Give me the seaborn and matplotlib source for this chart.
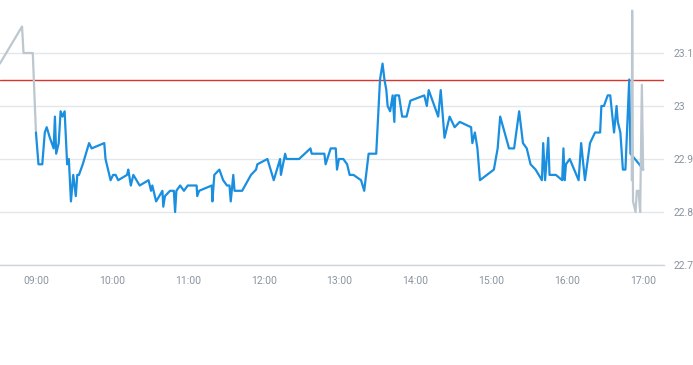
import numpy as np
import pandas as pd
import seaborn as sns
import matplotlib.pyplot as plt
import matplotlib.dates as mdates
from matplotlib.ticker import FuncFormatter

# ----- data -----
DAY = "2024-01-02 "

pre_times = ["08:31:30", "08:49:00", "08:50:10", "08:57:30", "09:00:00"]
pre_prices = [23.08, 23.15, 23.10, 23.10, 22.95]

main_times = [
    "09:00:00", "09:02:00", "09:05:00", "09:07:00", "09:08:30", "09:11:00", "09:14:00",
    "09:15:00", "09:16:00", "09:18:00", "09:19:30", "09:21:00", "09:22:40", "09:24:40",
    "09:26:00", "09:27:40", "09:29:30", "09:31:30", "09:32:40", "09:34:00", "09:37:00",
    "09:42:00", "09:44:00", "09:54:00", "09:55:00", "09:57:00", "09:59:00", "10:01:00",
    "10:03:00", "10:05:00", "10:12:00", "10:13:00", "10:15:00", "10:17:00", "10:22:00",
    "10:29:00", "10:31:00", "10:32:00", "10:35:00", "10:40:00", "10:40:40", "10:42:00",
    "10:46:00", "10:49:00", "10:50:00", "10:51:00", "10:54:00", "10:57:00", "11:00:00",
    "11:07:00", "11:07:30", "11:09:00", "11:19:00", "11:19:30", "11:21:00", "11:25:00",
    "11:28:00", "11:31:00", "11:33:00", "11:34:00", "11:36:00", "11:37:00", "11:43:00",
    "11:50:00", "11:54:00", "11:55:00", "12:03:00", "12:08:00", "12:13:00", "12:13:40",
    "12:17:00", "12:18:00", "12:28:00", "12:37:00", "12:38:00", "12:48:00", "12:49:00",
    "12:53:00", "12:57:00", "12:58:00", "12:59:30", "13:03:00", "13:06:00", "13:08:00",
    "13:11:00", "13:17:00", "13:19:30", "13:23:00", "13:29:00", "13:32:00", "13:34:00",
    "13:35:30", "13:37:00", "13:38:00", "13:40:00", "13:42:00", "13:43:20", "13:44:00",
    "13:47:00", "13:49:30", "13:53:00", "13:56:00", "14:07:00", "14:09:00", "14:10:30",
    "14:18:00", "14:20:00", "14:23:00", "14:27:00", "14:31:00", "14:35:00", "14:44:00",
    "14:45:00", "14:47:00", "14:49:00", "14:51:00", "15:02:00", "15:05:00", "15:07:00",
    "15:14:00", "15:18:00", "15:22:00", "15:25:00", "15:28:00", "15:31:00", "15:35:00",
    "15:40:00", "15:41:00", "15:42:30", "15:45:00", "15:46:00", "15:51:00", "15:56:00",
    "15:57:00", "15:58:00", "15:59:00", "16:02:00", "16:09:00", "16:11:00", "16:14:00",
    "16:18:00", "16:22:00", "16:26:00", "16:27:00", "16:29:00", "16:32:00", "16:34:00",
    "16:37:00", "16:39:00", "16:40:00", "16:42:00", "16:44:00", "16:46:00", "16:49:00",
    "16:50:00", "16:57:00", "17:00:00",
]
main_prices = [
    22.95, 22.89, 22.89, 22.95, 22.96, 22.94, 22.92,
    22.98, 22.91, 22.93, 22.99, 22.98, 22.99, 22.89,
    22.90, 22.82, 22.87, 22.83, 22.87, 22.87, 22.89,
    22.93, 22.92, 22.93, 22.90, 22.88, 22.86, 22.87,
    22.87, 22.86, 22.87, 22.88, 22.85, 22.87, 22.85,
    22.86, 22.84, 22.85, 22.82, 22.84, 22.81, 22.83,
    22.84, 22.84, 22.80, 22.84, 22.85, 22.84, 22.85,
    22.85, 22.83, 22.84, 22.85, 22.82, 22.87, 22.88,
    22.86, 22.85, 22.85, 22.82, 22.87, 22.84, 22.84,
    22.87, 22.88, 22.89, 22.90, 22.86, 22.90, 22.87,
    22.91, 22.90, 22.90, 22.92, 22.91, 22.91, 22.89,
    22.92, 22.92, 22.88, 22.90, 22.90, 22.89, 22.87,
    22.87, 22.86, 22.84, 22.91, 22.91, 23.05, 23.08,
    23.05, 23.03, 23.00, 22.99, 23.02, 22.97, 23.02,
    23.02, 22.98, 22.98, 23.01, 23.02, 23.00, 23.03,
    22.98, 23.03, 22.94, 22.98, 22.96, 22.97, 22.96,
    22.93, 22.95, 22.92, 22.86, 22.88, 22.92, 22.98,
    22.92, 22.92, 22.99, 22.93, 22.92, 22.89, 22.88,
    22.86, 22.93, 22.86, 22.94, 22.87, 22.87, 22.86,
    22.92, 22.86, 22.89, 22.90, 22.86, 22.93, 22.86,
    22.93, 22.95, 22.95, 23.00, 23.00, 23.02, 23.02,
    22.95, 23.00, 22.97, 22.95, 22.88, 22.88, 23.05,
    22.91, 22.89, 22.88,
]

post_times = ["16:51:00", "16:51:20", "16:52:00", "16:54:00", "16:55:00", "16:56:20",
              "16:57:40", "16:59:00", "17:00:00"]
post_prices = [22.86, 23.18, 22.82, 22.80, 22.84, 22.84, 22.80, 23.04, 22.88]

ref_price = 23.05
y_ticks = [22.7, 22.8, 22.9, 23.0, 23.1]


def frame(times, prices):
    return pd.DataFrame({"time": pd.to_datetime([DAY + t for t in times]),
                         "price": prices})


pre_df = frame(pre_times, pre_prices)
main_df = frame(main_times, main_prices)
post_df = frame(post_times, post_prices)

# ----- plot -----
sns.set_theme(style="white")
plt.rcParams["font.family"] = ["Roboto", "DejaVu Sans"]

label_col = "#8a949e"
fig = plt.figure(figsize=(6.93, 3.65), dpi=100)
ax = fig.add_axes([0, 1 - 265 / 365, 664 / 693, 265 / 365])

ax.axhline(ref_price, color="#d9352e", linewidth=1.0, zorder=1)
sns.lineplot(data=pre_df, x="time", y="price", color="#bcc7cf", linewidth=1.6,
             estimator=None, ax=ax, zorder=2)
sns.lineplot(data=main_df, x="time", y="price", color="#1a8fe0", linewidth=1.6,
             estimator=None, ax=ax, zorder=3)
sns.lineplot(data=post_df, x="time", y="price", color="#bcc7cf", linewidth=1.6,
             estimator=None, ax=ax, zorder=4)

ax.set_xlim(pd.Timestamp(DAY + "08:31:35"), pd.Timestamp(DAY + "17:16:30"))
ax.set_ylim(22.7, 23.2)
ax.set_yticks(y_ticks)
ax.yaxis.set_major_formatter(FuncFormatter(lambda v, p: f"{v:g}"))
ax.yaxis.tick_right()
ax.grid(axis="y", color="#e3e6ea", linewidth=1.0)
ax.set_axisbelow(True)

ax.xaxis.set_major_locator(mdates.HourLocator(byhour=range(9, 18)))
ax.xaxis.set_major_formatter(mdates.DateFormatter("%H:%M"))

for s in ["top", "left", "right"]:
    ax.spines[s].set_visible(False)
ax.spines["bottom"].set_color("#ccd3da")
ax.spines["bottom"].set_linewidth(1.0)

ax.tick_params(axis="x", colors="#ccd3da", length=3.5, width=1, pad=4.5,
               labelcolor=label_col, labelsize=7.5)
ax.tick_params(axis="y", length=0, pad=7, labelcolor=label_col, labelsize=7.5)
ax.set_xlabel("")
ax.set_ylabel("")

fig.savefig("out.png", dpi=100)
